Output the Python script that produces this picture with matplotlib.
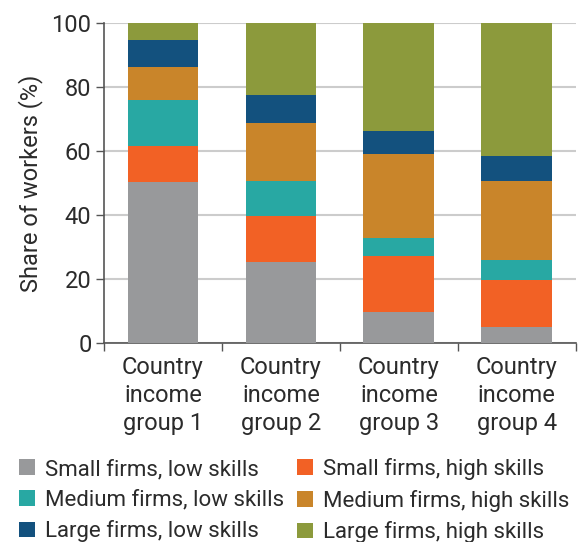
import numpy as np
import matplotlib
matplotlib.use('Agg')
import matplotlib.pyplot as plt
from matplotlib.patches import Patch

plt.rcParams['font.family'] = ['Roboto', 'DejaVu Sans']
plt.rcParams['text.color'] = '#2b2b2b'
plt.rcParams['axes.labelcolor'] = '#2b2b2b'

groups = ['Country\nincome\ngroup 1', 'Country\nincome\ngroup 2',
          'Country\nincome\ngroup 3', 'Country\nincome\ngroup 4']

# share of workers by firm size and skill level, bottom to top
small_low = [50.3, 25.2, 9.6, 4.9]
small_high = [11.2, 14.6, 17.5, 14.9]
medium_low = [14.4, 10.7, 5.8, 6.1]
medium_high = [10.2, 18.1, 26.1, 24.6]
large_low = [8.5, 8.8, 7.2, 7.9]
large_high = [5.4, 22.6, 33.8, 41.6]

series = [
    ('Small firms, low skills', small_low, '#98999b'),
    ('Small firms, high skills', small_high, '#f26125'),
    ('Medium firms, low skills', medium_low, '#28a8a3'),
    ('Medium firms, high skills', medium_high, '#c9852a'),
    ('Large firms, low skills', large_low, '#13517e'),
    ('Large firms, high skills', large_high, '#8c9a3c'),
]

fig = plt.figure(figsize=(5.78, 5.42), dpi=100)
ax = fig.add_axes([0.180, 0.367, 0.816, 0.591])

x = np.arange(len(groups))
bottom = np.zeros(len(groups))
handles = []
for name, vals, col in series:
    ax.bar(x, vals, width=0.6, bottom=bottom, color=col, zorder=3)
    bottom += np.array(vals)
    handles.append(Patch(facecolor=col, label=name))

ax.set_xlim(-0.5, 3.5)
ax.set_ylim(0, 100)
ax.set_yticks(range(0, 101, 20))
ax.yaxis.grid(True, color='#cccccc', linewidth=1.5, zorder=0)
ax.tick_params(axis='y', labelsize=17, length=6, width=1, pad=3,
               color='#555555', labelcolor='#2b2b2b')

ax.set_xticks(x)
ax.set_xticklabels(groups, fontsize=17, linespacing=1.3)
ax.tick_params(axis='x', which='major', length=0, pad=9, labelcolor='#2b2b2b')
ax.set_xticks(np.arange(-0.5, 4.0, 1.0), minor=True)
ax.tick_params(axis='x', which='minor', length=6, width=1, color='#555555')

for s in ['top', 'right']:
    ax.spines[s].set_visible(False)
for s in ['left', 'bottom']:
    ax.spines[s].set_color('#555555')
    ax.spines[s].set_linewidth(1.2)

ax.set_ylabel('Share of workers (%)', fontsize=17, labelpad=6)

# row-wise legend order for two columns
order = [0, 2, 4, 1, 3, 5]
fig.legend([handles[i] for i in order], [series[i][0] for i in order],
           loc='upper left', bbox_to_anchor=(0.033, 0.155), ncol=2,
           frameon=False, fontsize=16, handlelength=0.7, handleheight=0.7,
           handletextpad=0.45, columnspacing=0.6, labelspacing=0.43,
           borderaxespad=0, borderpad=0)

fig.savefig('out.png', dpi=100)
